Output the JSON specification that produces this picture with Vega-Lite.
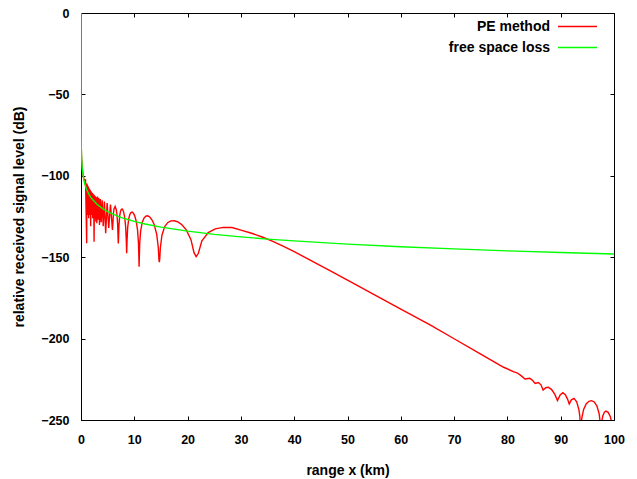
{
  "$schema": "https://vega.github.io/schema/vega-lite/v6.json",
  "width": 533,
  "height": 407,
  "autosize": {"type": "none"},
  "padding": {"left": 81, "top": 13, "right": 23, "bottom": 59},
  "background": "white",
  "datasets": {
    "pe": [
      {"range": 0, "level": 0}, {"range": 0.001, "level": -48}, {"range": 0.005, "level": -62}, {"range": 0.02, "level": -74},
      {"range": 0.05, "level": -82}, {"range": 0.1, "level": -88}, {"range": 0.2, "level": -94}, {"range": 0.3, "level": -97.5},
      {"range": 0.5, "level": -101.5}, {"range": 0.65, "level": -103}, {"range": 0.85, "level": -102.6},
      {"range": 1.068, "level": -141.5}, {"range": 1.096, "level": -104.8}, {"range": 1.126, "level": -119}, {"range": 1.158, "level": -105.3},
      {"range": 1.191, "level": -121}, {"range": 1.226, "level": -105.8}, {"range": 1.263, "level": -122}, {"range": 1.302, "level": -106.3},
      {"range": 1.344, "level": -124}, {"range": 1.389, "level": -106.9}, {"range": 1.437, "level": -126}, {"range": 1.488, "level": -107.5},
      {"range": 1.543, "level": -122}, {"range": 1.603, "level": -108.1}, {"range": 1.667, "level": -124}, {"range": 1.736, "level": -108.8},
      {"range": 1.812, "level": -131}, {"range": 1.894, "level": -109.5}, {"range": 1.984, "level": -124}, {"range": 2.033, "level": -110.2},
      {"range": 2.084, "level": -123}, {"range": 2.137, "level": -110.6}, {"range": 2.193, "level": -126}, {"range": 2.252, "level": -111},
      {"range": 2.315, "level": -125}, {"range": 2.381, "level": -111.5}, {"range": 2.451, "level": -140.5}, {"range": 2.525, "level": -112},
      {"range": 2.604, "level": -126}, {"range": 2.688, "level": -112.6}, {"range": 2.778, "level": -128}, {"range": 2.874, "level": -113.2},
      {"range": 2.976, "level": -129.2}, {"range": 3.086, "level": -112.8}, {"range": 3.205, "level": -127}, {"range": 3.333, "level": -113.5},
      {"range": 3.473, "level": -130.2}, {"range": 3.623, "level": -114.2}, {"range": 3.788, "level": -128.5}, {"range": 3.968, "level": -115},
      {"range": 4.167, "level": -131}, {"range": 4.386, "level": -115.8}, {"range": 4.63, "level": -135.3}, {"range": 4.902, "level": -116.8},
      {"range": 5.209, "level": -132}, {"range": 5.53, "level": -117.6}, {"range": 5.9, "level": -133.3},
      {"range": 5.994, "level": -128.45}, {"range": 6.091, "level": -123}, {"range": 6.192, "level": -120.4}, {"range": 6.403, "level": -118.8},
      {"range": 6.629, "level": -121}, {"range": 6.748, "level": -123.9}, {"range": 6.872, "level": -129.6}, {"range": 6.948, "level": -137.5},
      {"range": 7.0, "level": -141.5}, {"range": 7.052, "level": -137.7}, {"range": 7.131, "level": -130}, {"range": 7.266, "level": -124.5},
      {"range": 7.407, "level": -121.9}, {"range": 7.553, "level": -120.7}, {"range": 7.705, "level": -120.4}, {"range": 7.864, "level": -121},
      {"range": 8.03, "level": -122.6}, {"range": 8.201, "level": -125.6}, {"range": 8.381, "level": -131.4}, {"range": 8.493, "level": -139.3},
      {"range": 8.57, "level": -147.6}, {"range": 8.644, "level": -139.4}, {"range": 8.757, "level": -131.8}, {"range": 8.953, "level": -126.3},
      {"range": 9.157, "level": -123.8}, {"range": 9.371, "level": -122.6}, {"range": 9.596, "level": -122.3}, {"range": 9.831, "level": -123},
      {"range": 10.079, "level": -124.6}, {"range": 10.338, "level": -127.6}, {"range": 10.612, "level": -133.4}, {"range": 10.783, "level": -141.4},
      {"range": 10.857, "level": -149.9}, {"range": 10.9, "level": -155.8}, {"range": 10.943, "level": -150}, {"range": 11.014, "level": -141.5},
      {"range": 11.189, "level": -133.9}, {"range": 11.494, "level": -128.5}, {"range": 11.816, "level": -126}, {"range": 12.157, "level": -124.8},
      {"range": 12.517, "level": -124.6}, {"range": 12.901, "level": -125.3}, {"range": 13.308, "level": -127}, {"range": 13.742, "level": -130.1},
      {"range": 14.205, "level": -136}, {"range": 14.497, "level": -143.9}, {"range": 14.622, "level": -151.5}, {"range": 14.7, "level": -153},
      {"range": 14.771, "level": -151}, {"range": 14.89, "level": -144.2}, {"range": 15.184, "level": -136.5}, {"range": 15.703, "level": -131.2},
      {"range": 16.258, "level": -128.8}, {"range": 16.852, "level": -127.7}, {"range": 17.492, "level": -127.6}, {"range": 18.185, "level": -128.3},
      {"range": 18.932, "level": -130.1}, {"range": 19.747, "level": -133.2}, {"range": 20.631, "level": -139.2}, {"range": 21.2, "level": -147.2},
      {"range": 21.6, "level": -149.7}, {"range": 22.02, "level": -147.6}, {"range": 22.68, "level": -140}, {"range": 23.87, "level": -134.9},
      {"range": 25.19, "level": -132.6}, {"range": 26.67, "level": -131.7}, {"range": 28.33, "level": -131.8}, {"range": 30, "level": -133.4},
      {"range": 32, "level": -135.3}, {"range": 34, "level": -137.6}, {"range": 36, "level": -140.3}, {"range": 38, "level": -143.3},
      {"range": 40, "level": -146.6}, {"range": 43, "level": -151.8}, {"range": 46.7, "level": -158.3}, {"range": 50, "level": -164.1},
      {"range": 55, "level": -173}, {"range": 60, "level": -181.9}, {"range": 65.5, "level": -191.6}, {"range": 70, "level": -200.1},
      {"range": 75, "level": -209.6}, {"range": 78, "level": -215.2}, {"range": 79.3, "level": -217.6}, {"range": 80.5, "level": -219.3},
      {"range": 81.1, "level": -220.3}, {"range": 81.8, "level": -221}, {"range": 82.5, "level": -222.6}, {"range": 83.3, "level": -224.8},
      {"range": 84.2, "level": -224.4}, {"range": 84.7, "level": -225.6}, {"range": 85.2, "level": -227.5}, {"range": 85.8, "level": -227},
      {"range": 86.3, "level": -228.4}, {"range": 86.7, "level": -231.6}, {"range": 87.2, "level": -230.2}, {"range": 87.7, "level": -229.9},
      {"range": 88.3, "level": -231.3}, {"range": 88.9, "level": -234.3}, {"range": 89.4, "level": -238.1}, {"range": 89.9, "level": -234.6},
      {"range": 90.4, "level": -233.2}, {"range": 90.9, "level": -234.6}, {"range": 91.3, "level": -237.3}, {"range": 91.6, "level": -240.2},
      {"range": 92, "level": -237.6}, {"range": 92.5, "level": -236.7}, {"range": 93, "level": -238.8}, {"range": 93.4, "level": -243.5},
      {"range": 93.6, "level": -248}, {"range": 93.75, "level": -262}, {"range": 93.95, "level": -249}, {"range": 94.3, "level": -243.5},
      {"range": 94.8, "level": -240}, {"range": 95.3, "level": -238.5}, {"range": 95.8, "level": -238.1}, {"range": 96.3, "level": -238.9},
      {"range": 96.8, "level": -241.5}, {"range": 97.2, "level": -246}, {"range": 97.4, "level": -251}, {"range": 97.5, "level": -262},
      {"range": 97.65, "level": -252}, {"range": 97.9, "level": -247.5}, {"range": 98.2, "level": -245.2}, {"range": 98.5, "level": -244.5},
      {"range": 98.9, "level": -245.3}, {"range": 99.3, "level": -247.8}, {"range": 99.6, "level": -252}, {"range": 99.8, "level": -262},
      {"range": 100, "level": -256}
    ],
    "fsl": [
      {"range": 0, "level": 0}, {"range": 0.001, "level": -48}, {"range": 0.005, "level": -62}, {"range": 0.02, "level": -74},
      {"range": 0.05, "level": -82}, {"range": 0.1, "level": -88}, {"range": 0.2, "level": -94}, {"range": 0.3, "level": -97.5},
      {"range": 0.5, "level": -102}, {"range": 0.7, "level": -104.9}, {"range": 1, "level": -108}, {"range": 1.5, "level": -111.5},
      {"range": 2, "level": -114}, {"range": 3, "level": -117.5}, {"range": 4, "level": -120}, {"range": 5, "level": -122},
      {"range": 6, "level": -123.6}, {"range": 7, "level": -124.9}, {"range": 8, "level": -126.1}, {"range": 10, "level": -128},
      {"range": 12, "level": -129.6}, {"range": 15, "level": -131.5}, {"range": 20, "level": -134}, {"range": 25, "level": -136},
      {"range": 30, "level": -137.5}, {"range": 35, "level": -138.9}, {"range": 40, "level": -140}, {"range": 50, "level": -142},
      {"range": 60, "level": -143.6}, {"range": 70, "level": -144.9}, {"range": 80, "level": -146.1}, {"range": 90, "level": -147.1},
      {"range": 100, "level": -148}
    ]
  },
  "layer": [
    {
      "data": {"name": "pe"},
      "mark": {"type": "line", "clip": true, "strokeWidth": 1.4},
      "encoding": {
        "x": {
          "field": "range", "type": "quantitative",
          "scale": {"domain": [0, 100], "nice": false, "zero": false},
          "axis": {"orient": "bottom", "values": [0, 10, 20, 30, 40, 50, 60, 70, 80, 90, 100], "title": "range x (km)", "labelPadding": 17, "titlePadding": 18}
        },
        "y": {
          "field": "level", "type": "quantitative",
          "scale": {"domain": [-250, 0], "nice": false, "zero": false},
          "axis": {"orient": "left", "values": [-250, -200, -150, -100, -50, 0], "title": "relative received signal level (dB)", "labelPadding": 16, "titlePadding": 14}
        },
        "color": {
          "datum": "PE method", "type": "nominal",
          "scale": {"domain": ["PE method", "free space loss"], "range": ["#ff0000", "#00ff00"]},
          "legend": {
            "title": null, "orient": "none", "legendX": 489, "legendY": 6,
            "symbolType": "M-3,0H3", "symbolSize": 169, "symbolStrokeWidth": 1.5,
            "symbolOffset": 0, "labelOffset": -35, "labelAlign": "right",
            "rowPadding": 6, "padding": 0,
            "labelFont": "Liberation Sans", "labelFontWeight": "bold", "labelFontSize": 14, "labelColor": "#000"
          }
        }
      }
    },
    {
      "data": {"name": "fsl"},
      "mark": {"type": "line", "clip": true, "strokeWidth": 1.4},
      "encoding": {
        "x": {
          "field": "range", "type": "quantitative",
          "axis": {"orient": "top", "values": [0, 10, 20, 30, 40, 50, 60, 70, 80, 90, 100], "labels": false, "title": null}
        },
        "y": {
          "field": "level", "type": "quantitative",
          "axis": {"orient": "right", "values": [-250, -200, -150, -100, -50, 0], "labels": false, "title": null}
        },
        "color": {"datum": "free space loss", "type": "nominal"}
      }
    }
  ],
  "resolve": {"axis": {"x": "independent", "y": "independent"}},
  "config": {
    "view": {"stroke": "#000000", "strokeWidth": 1},
    "axis": {
      "domain": false, "grid": false, "tickSize": -4, "tickColor": "#000000", "tickWidth": 1,
      "labelFont": "Liberation Sans", "labelFontWeight": "bold", "labelFontSize": 12.5, "labelColor": "#000000",
      "labelFlush": false, "labelOverlap": false,
      "titleFont": "Liberation Sans", "titleFontWeight": "bold", "titleFontSize": 14, "titleColor": "#000000"
    }
  }
}
